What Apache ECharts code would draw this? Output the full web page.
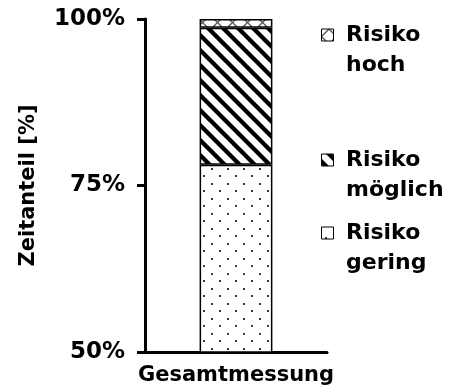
<!DOCTYPE html>
<html>
<head>
<meta charset="utf-8">
<script src="https://cdn.jsdelivr.net/npm/echarts@6/dist/echarts.min.js"></script>
<style>
html,body{margin:0;padding:0;background:#fff;}
#c{width:452px;height:387px;}
</style>
</head>
<body>
<div id="c"></div>
<script>
// ---- data ----
const categories = ['Gesamtmessung'];
const seriesNames = ['Risiko gering', 'Risiko möglich', 'Risiko hoch'];
const legendLabels = ['Risiko\ngering', 'Risiko\nmöglich', 'Risiko\nhoch'];
const geringValues = [78.1];
const moeglichValues = [20.6];
const hochValues = [1.3];
const yTicks = [50, 75, 100];

// ---- patterns ----
function makeCanvas(w, h) {
  const c = document.createElement('canvas');
  c.width = w; c.height = h;
  return c;
}
function dotsPattern() {
  const c = makeCanvas(16, 15);
  const g = c.getContext('2d');
  g.fillStyle = '#fff'; g.fillRect(0, 0, 16, 15);
  g.fillStyle = '#3a3a3a';
  g.fillRect(3, 3, 2, 2);
  g.fillRect(11, 10, 2, 2);
  return c;
}
function stripePattern() {
  const s = 15;
  const c = makeCanvas(s, s);
  const g = c.getContext('2d');
  g.fillStyle = '#fff'; g.fillRect(0, 0, s, s);
  g.strokeStyle = '#000'; g.lineWidth = 4.3;
  for (let k = -1; k <= 1; k++) {
    g.beginPath();
    g.moveTo(k * s - 2, -2);
    g.lineTo(k * s + s + 2, s + 2);
    g.stroke();
  }
  return c;
}
function crossPattern() {
  const s = 15;
  const c = makeCanvas(s, s);
  const g = c.getContext('2d');
  g.fillStyle = '#fff'; g.fillRect(0, 0, s, s);
  g.strokeStyle = '#555'; g.lineWidth = 1.3;
  for (let k = -1; k <= 1; k++) {
    g.beginPath();
    g.moveTo(k * s - 2, -2);
    g.lineTo(k * s + s + 2, s + 2);
    g.stroke();
    g.beginPath();
    g.moveTo(k * s - 2, s + 2);
    g.lineTo(k * s + s + 2, -2);
    g.stroke();
  }
  return c;
}
const patterns = [
  { image: dotsPattern(), repeat: 'repeat' },
  { image: stripePattern(), repeat: 'repeat' },
  { image: crossPattern(), repeat: 'repeat' }
];
const values = [geringValues, moeglichValues, hochValues];

const FONT = '"DejaVu Sans", "Liberation Sans", Arial, sans-serif';

const chart = echarts.init(document.getElementById('c'), null, { renderer: 'canvas' });

// first-line centre y of each legend entry
const legendRowY = [233, 160, 35];
const LH = 30;
const legends = seriesNames.map((name, i) => ({
  data: [name],
  left: 321,
  top: legendRowY[i] - LH * 1.5,
  orient: 'vertical',
  icon: 'path://M0,0h10v10h-10Z',
  symbolKeepAspect: true,
  itemWidth: 27,
  itemHeight: 12,
  itemGap: 0,
  padding: 0,
  selectedMode: false,
  formatter: () => '\n' + legendLabels[i],
  textStyle: {
    fontFamily: FONT,
    fontWeight: 'bold',
    fontSize: 22,
    color: '#000',
    lineHeight: LH
  },
  itemStyle: { borderColor: '#000', borderWidth: 1 }
}));

chart.setOption({
  animation: false,
  backgroundColor: '#fff',
  legend: legends,
  grid: { left: 145, right: 125, top: 19, bottom: 35, containLabel: false },
  xAxis: {
    type: 'category',
    data: categories,
    axisLine: { lineStyle: { color: '#000', width: 3 } },
    axisTick: { show: false },
    axisLabel: {
      color: '#000', fontFamily: FONT, fontWeight: 'bold', fontSize: 21, margin: 13
    }
  },
  yAxis: {
    type: 'value',
    min: 50, max: 100, interval: 25,
    name: 'Zeitanteil [%]',
    nameLocation: 'middle',
    nameGap: 106,
    nameRotate: 90,
    nameTextStyle: { color: '#000', fontFamily: FONT, fontWeight: 'bold', fontSize: 21 },
    splitLine: { show: false },
    axisLine: { show: true, lineStyle: { color: '#000', width: 3 } },
    axisTick: { show: true, length: 8, lineStyle: { color: '#000', width: 3 } },
    axisLabel: {
      color: '#000', fontFamily: FONT, fontWeight: 'bold', fontSize: 23, margin: 20,
      formatter: (v) => yTicks.includes(v) ? v + '%' : ''
    }
  },
  series: seriesNames.map((name, i) => ({
    name: name,
    type: 'bar',
    stack: 'total',
    barWidth: '40%',
    data: values[i],
    itemStyle: { color: patterns[i], borderColor: '#000', borderWidth: 1.5 }
  }))
});
</script>
</body>
</html>
